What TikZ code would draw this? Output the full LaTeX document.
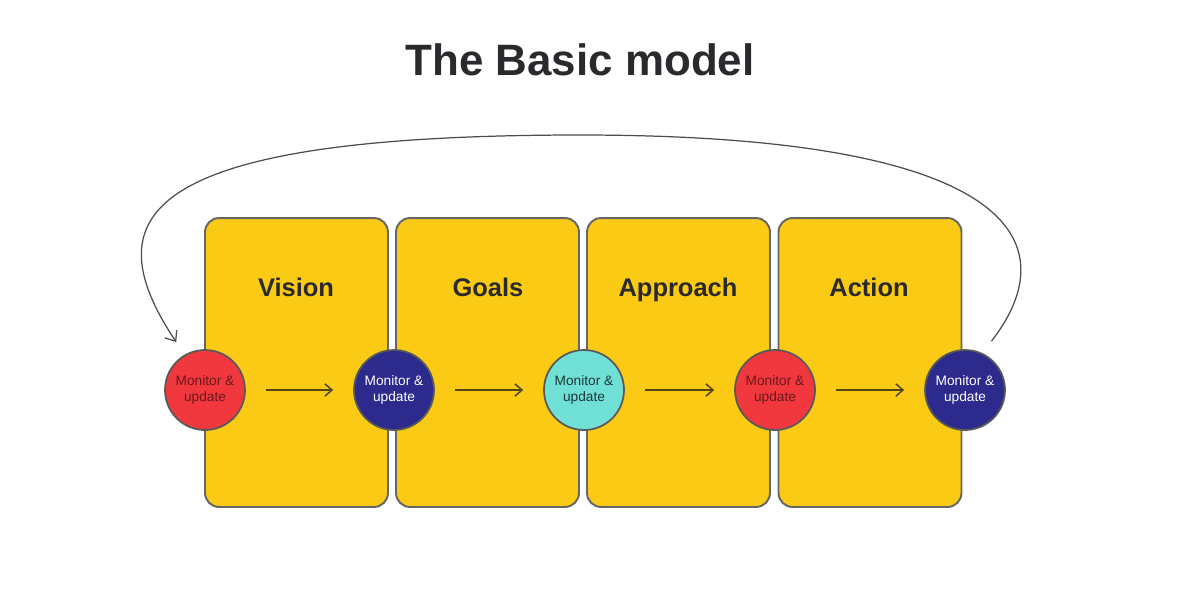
\documentclass[tikz,border=0pt]{standalone}
\usepackage{fontspec}
\setmainfont{Liberation Sans}
\definecolor{bmyellow}{RGB}{250,202,20}
\definecolor{bmred}{RGB}{240,56,62}
\definecolor{bmnavy}{RGB}{44,42,140}
\definecolor{bmcyan}{RGB}{112,224,214}
\definecolor{bmtext}{RGB}{42,42,46}
\definecolor{bmolive}{RGB}{85,70,15}
\usetikzlibrary{arrows.meta,positioning}

\begin{document}
\begin{tikzpicture}[x=0.02cm, y=-0.02cm,
  stagebox/.style={draw=black!60, line width=1.1pt, fill=bmyellow, rounded corners=8pt,
    minimum width=3.66cm, minimum height=5.78cm},
  stagelabel/.style={font=\fontsize{14.5}{16}\selectfont\bfseries, text=bmtext, anchor=base},
  monitor/.style={circle, draw=black!65, line width=1pt, minimum size=1.6cm,
    inner sep=0pt, align=center, font=\fontsize{7.8}{9.2}\selectfont},
  flow/.style={-{Straight Barb[length=4pt,width=7pt]}, bmolive, line width=0.9pt,
    shorten <=0.4cm, shorten >=0.4cm}]

\useasboundingbox (0,0) rectangle (1200,600);

% title
\node[font=\fontsize{25}{30}\selectfont\bfseries, text=bmtext] (title) at (580,60) {The Basic model};

% stages
\node[stagebox] (vision) at (296.5,362.5) {};
\node[stagebox] (goals) at (487.5,362.5) {};
\node[stagebox] (approach) at (678.5,362.5) {};
\node[stagebox] (action) at (870,362.5) {};

\node[stagelabel] (visionlbl) at (296,296) {Vision};
\node[stagelabel] (goalslbl) at (488,296) {Goals};
\node[stagelabel] (approachlbl) at (678,296) {Approach};
\node[stagelabel] (actionlbl) at (869,296) {Action};

% monitor & update circles
\node[monitor, fill=bmred, text=bmred!45!black] (m1) at (205,390) {Monitor \&\\update};
\node[monitor, fill=bmnavy, text=white] (m2) at (394,390) {Monitor \&\\update};
\node[monitor, fill=bmcyan, text=bmcyan!25!black] (m3) at (584,390) {Monitor \&\\update};
\node[monitor, fill=bmred, text=bmred!45!black] (m4) at (775,390) {Monitor \&\\update};
\node[monitor, fill=bmnavy, text=white] (m5) at (965,390) {Monitor \&\\update};

% arrows
\draw[flow] (m1.east) -- (m2.west);
\draw[flow] (m2.east) -- (m3.west);
\draw[flow] (m3.east) -- (m4.west);
\draw[flow] (m4.east) -- (m5.west);

% loop back
\draw[-{Straight Barb[length=5pt,width=8pt]}, black!70, line width=0.7pt,
  shorten <=0.3cm, shorten >=0.3cm]
  (m5.65) .. controls (1070,240) and (1010,135) .. (580,135)
  .. controls (130,135) and (95,220) .. (m1.120);

\end{tikzpicture}
\end{document}
